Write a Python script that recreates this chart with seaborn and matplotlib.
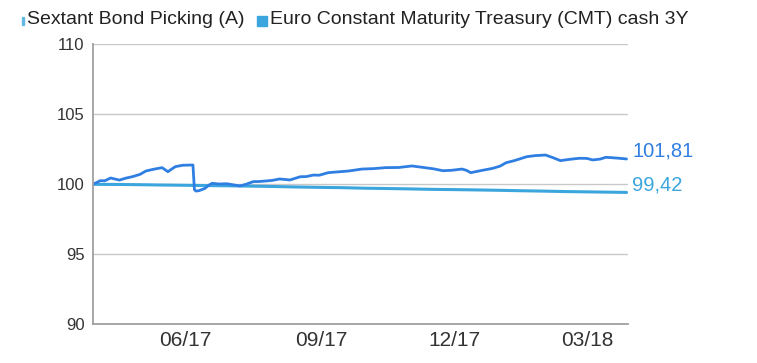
import matplotlib
matplotlib.use("Agg")
import matplotlib.pyplot as plt
import matplotlib.dates as mdates
from matplotlib.patches import Rectangle
import pandas as pd
import seaborn as sns

# Sextant Bond Picking (A), base 100
sextant_dates = [
    "2017-03-30", "2017-04-04", "2017-04-07", "2017-04-11", "2017-04-17", "2017-04-21",
    "2017-04-26", "2017-05-01", "2017-05-05", "2017-05-10", "2017-05-16", "2017-05-20",
    "2017-05-22", "2017-05-25", "2017-05-30", "2017-06-06", "2017-06-07", "2017-06-08",
    "2017-06-10", "2017-06-14", "2017-06-17", "2017-06-19", "2017-06-24", "2017-06-29",
    "2017-07-03", "2017-07-08", "2017-07-12", "2017-07-17", "2017-07-21", "2017-07-26",
    "2017-07-30", "2017-08-04", "2017-08-11", "2017-08-18", "2017-08-22", "2017-08-27",
    "2017-08-31", "2017-09-06", "2017-09-14", "2017-09-20", "2017-09-29", "2017-10-07",
    "2017-10-15", "2017-10-24", "2017-11-02", "2017-11-10", "2017-11-17", "2017-11-23",
    "2017-11-29", "2017-12-06", "2017-12-09", "2017-12-12", "2017-12-19", "2017-12-27",
    "2018-01-01", "2018-01-05", "2018-01-11", "2018-01-19", "2018-01-25", "2018-02-01",
    "2018-02-06", "2018-02-11", "2018-02-17", "2018-02-24", "2018-03-01", "2018-03-05",
    "2018-03-10", "2018-03-14", "2018-03-18", "2018-03-23", "2018-03-28",
]
sextant_values = [
    100.00, 100.26, 100.25, 100.45, 100.30, 100.43,
    100.55, 100.71, 100.95, 101.07, 101.19, 100.90,
    101.05, 101.26, 101.36, 101.38, 99.62, 99.52,
    99.54, 99.70, 99.95, 100.07, 100.02, 100.04,
    99.97, 99.88, 100.00, 100.19, 100.20, 100.24,
    100.28, 100.38, 100.31, 100.54, 100.55, 100.66,
    100.65, 100.83, 100.90, 100.95, 101.09, 101.12,
    101.19, 101.20, 101.31, 101.20, 101.10, 100.97,
    101.00, 101.09, 101.00, 100.83, 100.98, 101.14,
    101.30, 101.54, 101.70, 101.97, 102.05, 102.09,
    101.90, 101.69, 101.78, 101.86, 101.85, 101.74,
    101.80, 101.93, 101.90, 101.86, 101.81,
]

# Euro Constant Maturity Treasury (CMT) cash 3Y, base 100
cmt_dates = [
    "2017-03-30", "2017-04-15", "2017-05-01", "2017-05-15", "2017-06-01", "2017-06-15",
    "2017-07-01", "2017-07-15", "2017-08-01", "2017-08-15", "2017-09-01", "2017-09-15",
    "2017-10-01", "2017-10-15", "2017-11-01", "2017-11-15", "2017-12-01", "2017-12-15",
    "2018-01-01", "2018-01-15", "2018-02-01", "2018-02-15", "2018-03-01", "2018-03-15",
    "2018-03-28",
]
cmt_values = [
    100.00, 99.99, 99.97, 99.95, 99.93, 99.91,
    99.89, 99.87, 99.84, 99.81, 99.78, 99.76,
    99.72, 99.70, 99.67, 99.64, 99.62, 99.60,
    99.57, 99.54, 99.51, 99.48, 99.46, 99.44,
    99.42,
]

tick_months = ["2017-06-01", "2017-09-01", "2017-12-01", "2018-03-01"]
legend_labels = ["Sextant Bond Picking (A)", "Euro Constant Maturity Treasury (CMT) cash 3Y"]
end_labels = ["101,81", "99,42"]

dark_blue = "#2f7fe3"
light_blue = "#3aa6dd"

sns.set_style("white")
plt.rcParams["font.family"] = ["Liberation Sans", "DejaVu Sans"]

sextant = pd.DataFrame({"date": pd.to_datetime(sextant_dates), "value": sextant_values})
cmt = pd.DataFrame({"date": pd.to_datetime(cmt_dates), "value": cmt_values})

fig = plt.figure(figsize=(7.57, 3.63), dpi=100)
ax = fig.add_axes([93 / 757, 1 - 324.3 / 363, 535 / 757, 280 / 363])

sns.lineplot(data=cmt, x="date", y="value", color=light_blue, linewidth=2.2, ax=ax)
sns.lineplot(data=sextant, x="date", y="value", color=dark_blue, linewidth=2.0, ax=ax)

ax.set_xlim(pd.Timestamp("2017-03-30"), pd.Timestamp("2018-03-29"))
ax.set_ylim(90, 110)
ax.set_yticks([90, 95, 100, 105, 110])
ax.set_xticks(pd.to_datetime(tick_months))
ax.xaxis.set_major_formatter(mdates.DateFormatter("%m/%y"))
ax.set_xlabel("")
ax.set_ylabel("")

ax.grid(axis="y", color="#c8c8c8", linewidth=1.0)
ax.grid(axis="x", visible=False)
for side in ["top", "right"]:
    ax.spines[side].set_visible(False)
for side in ["left", "bottom"]:
    ax.spines[side].set_color("#a0a0a0")
    ax.spines[side].set_linewidth(1.3)
ax.tick_params(axis="y", length=0, pad=6, labelsize=12, labelcolor="#333333")
ax.tick_params(axis="x", length=0, pad=5, labelsize=15, labelcolor="#333333")

# end-of-series value labels
for df, label, color in [(sextant, end_labels[0], dark_blue), (cmt, end_labels[1], light_blue)]:
    last = df.iloc[-1]
    ax.annotate(label, xy=(last["date"], last["value"]), xytext=(4, 5.5),
                textcoords="offset points", ha="left", va="center",
                fontsize=14.5, color=color, annotation_clip=False)

# legend drawn along the top
fig.patches.append(Rectangle((22 / 757, 1 - 25 / 363), 1.6 / 757, 8 / 363,
                             transform=fig.transFigure, color=light_blue, alpha=0.7))
fig.text(27 / 757, 1 - 20 / 363, legend_labels[0], fontsize=14, color="#222222",
         ha="left", va="center")
fig.patches.append(Rectangle((257 / 757, 1 - 25.5 / 363), 10 / 757, 10 / 363,
                             transform=fig.transFigure, color=light_blue))
fig.text(270 / 757, 1 - 20 / 363, legend_labels[1], fontsize=14, color="#222222",
         ha="left", va="center")

fig.savefig("out.png", dpi=100)
